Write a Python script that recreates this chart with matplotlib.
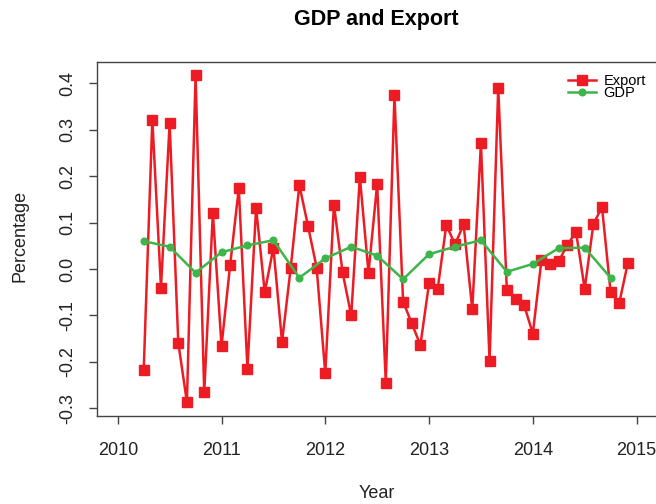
import matplotlib
matplotlib.use("Agg")
import matplotlib.pyplot as plt
import numpy as np

plt.rcParams['font.family'] = ['Liberation Sans', 'DejaVu Sans']

# monthly export growth, Apr 2010 .. Dec 2014
export = [-0.218, 0.322, -0.040, 0.314, -0.159, -0.287, 0.418, -0.266, 0.121,
          -0.166, 0.009, 0.174, -0.215, 0.132, -0.050, 0.046, -0.157, 0.002,
          0.181, 0.093, 0.003, -0.225, 0.139, -0.007, -0.100, 0.198, -0.008,
          0.183, -0.245, 0.375, -0.070, -0.117, -0.164, -0.031, -0.043, 0.095,
          0.053, 0.096, -0.087, 0.271, -0.198, 0.390, -0.045, -0.065, -0.078,
          -0.139, 0.019, 0.010, 0.017, 0.052, 0.080, -0.043, 0.096, 0.134,
          -0.050, -0.073, 0.014]
# quarterly GDP growth, 2010 Q2 .. 2014 Q4
gdp = [0.060, 0.048, -0.008, 0.036, 0.051, 0.062, -0.019, 0.023, 0.048,
       0.029, -0.022, 0.032, 0.048, 0.062, -0.006, 0.011, 0.045, 0.046, -0.019]

export_t = 2010 + (3 + np.arange(len(export))) / 12
gdp_t = 2010.25 + 0.25 * np.arange(len(gdp))

year_ticks = [2010, 2011, 2012, 2013, 2014, 2015]
pct_ticks = [-0.3, -0.2, -0.1, 0.0, 0.1, 0.2, 0.3, 0.4]

red = '#ED1C24'
green = '#3DB54A'

fig = plt.figure(figsize=(6.56, 5.04), dpi=100)
ax = fig.add_axes([97 / 656, 1 - 415.7 / 504, 1.002 - 97 / 656, (415.7 - 62) / 504])

ax.plot(export_t, export, color=red, lw=1.8, marker='s', ms=6.5, label='Export')
ax.plot(gdp_t, gdp, color=green, lw=1.8, marker='o', ms=4.8, label='GDP')

ax.set_xlim(2009.8, 2015.2)
ax.set_ylim(-0.316, 0.446)
ax.set_xticks(year_ticks)
ax.set_yticks(pct_ticks)
ax.set_yticklabels(['%.1f' % v for v in pct_ticks], rotation=90, va='center')

for s in ax.spines.values():
    s.set_color('#444444')
    s.set_linewidth(1.0)
ax.spines['right'].set_visible(False)
ax.tick_params(axis='both', length=6, width=1, color='#444444', labelsize=13,
               labelcolor='#222222')
ax.tick_params(axis='x', pad=13)
ax.tick_params(axis='y', pad=9)

fig.text(376.5 / 656, 1 - 19 / 504, 'GDP and Export', ha='center', va='center',
         fontsize=15.5, fontweight='bold')
fig.text(377 / 656, 1 - 493 / 504, 'Year', ha='center', va='center', fontsize=13,
         color='#222222')
fig.text(20 / 656, 1 - 236 / 504, 'Percentage', ha='center', va='center',
         rotation=90, fontsize=13, color='#222222')

ax.legend(loc='upper right', bbox_to_anchor=(1.0, 1.0), frameon=False,
          fontsize=10.5, labelspacing=-0.1, handlelength=1.9, handletextpad=0.5,
          borderpad=0.3, borderaxespad=0.5)

fig.savefig('out.png', dpi=100)
